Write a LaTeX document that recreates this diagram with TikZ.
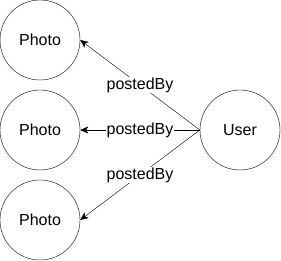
\documentclass[tikz,border=0pt]{standalone}
\usepackage{fontspec}
\setmainfont{Liberation Sans}
\usetikzlibrary{arrows.meta}
\begin{document}
\begin{tikzpicture}[x=1pt, y=-1pt, >={Stealth[length=8pt,width=7pt,inset=2pt]}]
	\tikzset{entity/.style={draw, circle, minimum size=80pt, inner sep=0pt, font=\fontsize{16}{18}\selectfont},
		rel/.style={fill=white, inner sep=1pt, font=\fontsize{16}{18}\selectfont}}
	% --- 1. Khung ---
	\useasboundingbox (0,0) rectangle (281,261);
	% --- 2. Cac nut ---
	\node[entity] (photoA) at (40,40) {Photo};
	\node[entity] (photoB) at (40,130) {Photo};
	\node[entity] (photoC) at (40,220) {Photo};
	\node[entity] (user) at (240,130) {User};
	% --- 3. Cac canh ---
	\draw[->] (user.west) -- (photoA.east) node[rel, midway] {postedBy};
	\draw[->] (user.west) -- (photoB.east) node[rel, midway] {postedBy};
	\draw[->] (user.west) -- (photoC.east) node[rel, midway] {postedBy};
\end{tikzpicture}
\end{document}
